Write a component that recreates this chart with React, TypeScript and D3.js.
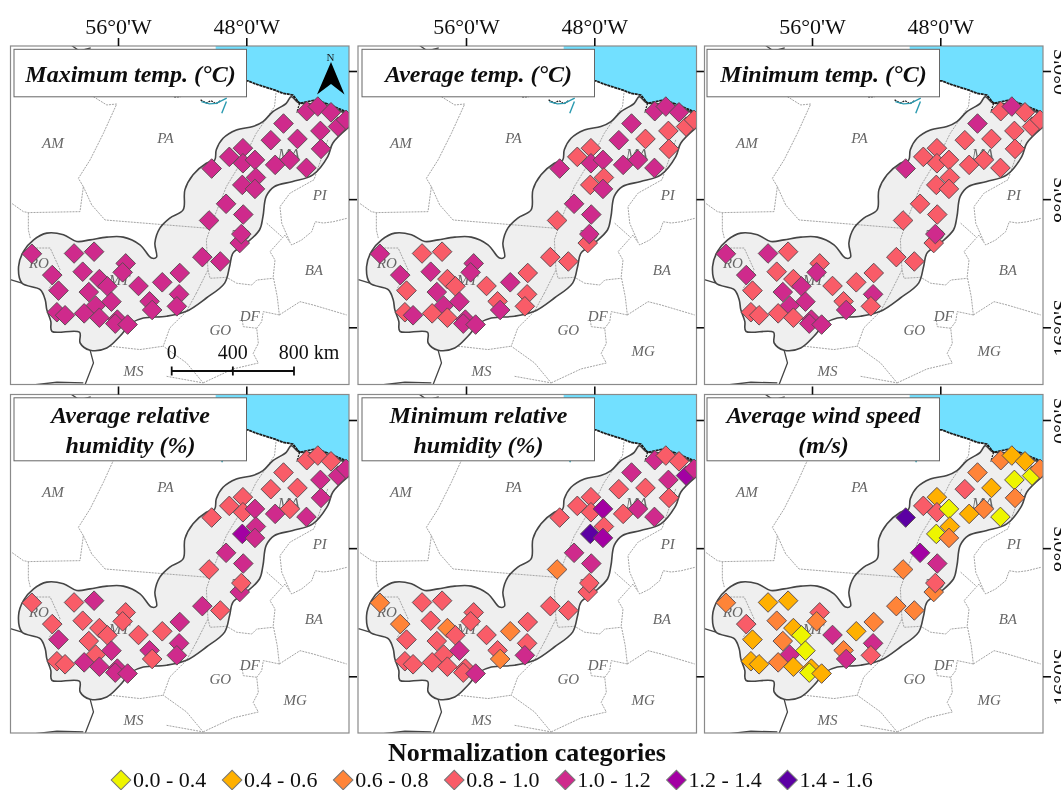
import { useRef, useEffect } from 'react';
import * as d3 from 'd3';

const SERIF = '"Liberation Serif", serif';

// station positions (degrees)
const stationLon = [
	-61.37, -58.74, -57.49, -55.52, -55.71, -58.2, -60.1, -57.16, -56.66, -54.72, -53.24, -52.15, -59.71, -57.82,
	-56.41, -57.39, -54.03, -53.87, -52.19, -52.33, -59.81, -59.3, -58.11, -57.16, -56.04, -56.17, -55.4, -50.74,
	-49.62, -48.41, -48.31, -50.32, -49.26, -48.19, -50.16, -49.06, -48.21, -48.21, -47.46, -47.4, -48.25, -47.46,
	-46.2, -45.28, -44.25, -46.47, -44.81, -45.68, -44.23, -43.54, -42.72, -43.38, -43.34, -42.28, -41.78,
];
const stationLat = [
	-11.41, -11.39, -11.28, -12.01, -12.57, -12.53, -12.74, -12.99, -13.44, -13.42, -13.19, -12.61, -13.71, -13.8,
	-14.4, -14.65, -14.38, -14.92, -13.94, -14.69, -15.06, -15.25, -15.13, -15.4, -15.52, -15.77, -15.83, -11.62,
	-11.89, -10.74, -10.18, -9.33, -8.29, -8.96, -6.09, -5.36, -4.82, -5.76, -5.55, -6.65, -7.11, -7.36,
	-5.86, -5.55, -6.05, -4.32, -4.24, -3.28, -2.51, -2.22, -2.58, -3.74, -4.86, -3.47, -3.05,
];

// normalization category of each station, index into categoryLabels
const maxTempClass = [
	4, 4, 4, 4, 4, 4, 4, 4, 4, 4, 4, 4, 4, 4, 4, 4, 4, 4, 4, 4, 4, 4, 4, 4, 4, 4, 4, 4,
	4, 4, 4, 4, 4, 4, 4, 4, 4, 4, 4, 4, 4, 4, 4, 4, 4, 4, 4, 4, 4, 4, 4, 4, 4, 4, 4,
];
const avgTempClass = [
	4, 3, 3, 4, 4, 4, 4, 3, 3, 3, 4, 3, 3, 4, 4, 4, 3, 4, 3, 3, 3, 4, 3, 3, 4, 4, 4, 3,
	3, 3, 4, 3, 4, 4, 4, 3, 3, 4, 4, 3, 3, 4, 4, 4, 4, 4, 3, 4, 4, 4, 4, 3, 3, 3, 3,
];
const minTempClass = [
	4, 4, 3, 3, 4, 3, 4, 3, 4, 3, 3, 3, 3, 4, 4, 4, 3, 4, 4, 3, 3, 3, 3, 3, 4, 4, 4, 3,
	3, 3, 4, 3, 3, 3, 4, 3, 3, 3, 3, 3, 3, 3, 3, 3, 3, 3, 3, 4, 3, 4, 3, 3, 3, 3, 3,
];
const avgHumidityClass = [
	3, 3, 4, 3, 3, 3, 3, 3, 3, 3, 3, 4, 4, 3, 4, 3, 4, 3, 4, 4, 3, 3, 4, 4, 4, 4, 4, 4,
	3, 4, 3, 3, 4, 4, 3, 3, 3, 3, 4, 4, 5, 4, 4, 3, 4, 3, 3, 3, 3, 3, 3, 4, 4, 4, 4,
];
const minHumidityClass = [
	2, 3, 3, 3, 3, 3, 2, 2, 3, 3, 2, 3, 3, 3, 4, 3, 3, 2, 3, 4, 3, 3, 3, 3, 3, 3, 4, 3,
	3, 3, 3, 2, 4, 4, 3, 3, 3, 3, 5, 3, 6, 5, 3, 4, 4, 3, 3, 4, 4, 3, 3, 4, 3, 5, 4,
];
const windClass = [
	2, 1, 1, 3, 2, 2, 3, 1, 0, 4, 1, 2, 1, 2, 0, 4, 2, 4, 4, 3, 1, 1, 2, 1, 1, 0, 1, 2,
	2, 2, 3, 2, 5, 4, 6, 3, 1, 3, 0, 1, 0, 2, 1, 2, 0, 3, 1, 2, 2, 1, 1, 0, 2, 0, 2,
];

const panelClasses = [maxTempClass, avgTempClass, minTempClass, avgHumidityClass, minHumidityClass, windClass];
const panelTitles = [
	['Maximum temp. (°C)'],
	['Average temp. (°C)'],
	['Minimum temp. (°C)'],
	['Average relative', 'humidity (%)'],
	['Minimum relative', 'humidity (%)'],
	['Average wind speed', '(m/s)'],
];

const categoryLabels = ['0.0 - 0.4', '0.4 - 0.6', '0.6 - 0.8', '0.8 - 1.0', '1.0 - 1.2', '1.2 - 1.4', '1.4 - 1.6'];
const categoryColors = ['#eef500', '#ffb000', '#ff8438', '#f95b68', '#cf2a8c', '#a300a3', '#5b00a3'];

const lonTicks = [-56, -48];
const latTicks = [0, -8, -16];

// study area outline, [lon, lat]
const studyArea = [
	[-45.2, -1.6], [-44.79, -1.95], [-44.06, -2.05], [-43.65, -1.98], [-42.61, -2.3], [-41.68, -2.72], [-41.2, -3.0], [-41.3, -3.3], [-41.68, -3.57],
	[-42.61, -4.51], [-42.92, -5.34], [-43.85, -6.48], [-45.1, -6.9], [-46.24, -7.21], [-46.76, -7.83], [-46.96, -9.08],
	[-47.17, -9.91], [-48.0, -10.74], [-48.83, -11.37], [-49.04, -12.2], [-49.35, -13.24], [-50.49, -14.17], [-51.73, -15.0],
	[-52.97, -15.31], [-54.42, -15.42], [-55.15, -15.73], [-55.88, -16.56], [-56.7, -17.29], [-57.74, -17.43], [-58.36, -16.98],
	[-58.4, -16.31], [-60.12, -16.25], [-60.19, -15.63], [-60.44, -14.9], [-60.54, -14.28], [-60.85, -13.65], [-61.99, -13.24],
	[-62.2, -12.2], [-61.89, -11.26], [-61.26, -10.54], [-60.44, -10.12], [-59.4, -10.22], [-58.57, -10.64], [-57.74, -10.54],
	[-56.7, -10.37], [-55.67, -10.37], [-54.63, -10.85], [-53.91, -11.68], [-53.6, -11.62], [-53.7, -10.74], [-53.39, -9.81],
	[-52.77, -9.18], [-51.94, -8.67], [-51.83, -7.42], [-51.32, -6.48], [-50.49, -5.76], [-49.97, -5.55], [-49.87, -4.92],
	[-49.45, -4.2], [-48.62, -3.68], [-47.59, -3.47], [-46.96, -3.16], [-46.34, -2.54], [-45.51, -2.02],
];

const coastLine = [
	[-41.68, -2.6], [-42.61, -2.18], [-43.65, -1.81], [-44.68, -2.02], [-44.9, -1.75], [-45.1, -1.5], [-45.72, -1.39],
	[-46.2, -1.2], [-46.76, -1.02], [-47.3, -0.85], [-47.9, -0.62], [-48.83, -0.56], [-49.91, -0.77],
];
const oceanCorners = [[-49.91, 1.56], [-41.16, 1.93], [-41.16, -2.74]];

const deltaLines = [
	[[-50.8, -1.91], [-50.3, -2.05], [-49.87, -2.02], [-49.22, -1.7]],
	[[-49.24, -1.9], [-49.53, -2.64]],
];
const deltaShore = [
	[[-50.85, -1.8], [-50.5, -2.0], [-50.2, -1.85], [-49.9, -2.05], [-49.6, -1.85]],
	[[-52.5, -1.62], [-52.1, -1.6]],
	[[-44.68, -2.02], [-44.85, -2.6]],
];

const countryBorders = [
	[[-62.71, -13.03], [-61.99, -13.24]],
	[[-57.74, -17.43], [-57.53, -18.22], [-58.05, -19.57]],
	[[-61.68, -19.64], [-59.81, -19.43], [-58.16, -19.47]],
	[[-58.9, 1.6], [-58.4, 1.25], [-57.7, 1.45]],
];

const stateBorders = [
	[[-57.54, -1.6], [-56.7, -2.12], [-56.08, -2.06], [-56.91, -3.89], [-57.74, -5.55], [-58.47, -6.7], [-58.16, -7.22], [-58.37, -8.78], [-61.59, -8.84], [-61.9, -8.78], [-62.63, -8.26]],
	[[-61.59, -8.84], [-61.59, -9.92], [-61.47, -10.43]],
	[[-61.47, -11.05], [-60.23, -11.05], [-59.61, -12.41], [-60.33, -13.65]],
	[[-58.16, -7.22], [-57.64, -8.36], [-56.81, -9.3], [-50.37, -9.82]],
	[[-46.13, -1.18], [-46.24, -2.22], [-47.38, -3.89], [-48.1, -5.34], [-49.24, -7.21], [-50.07, -9.29], [-50.49, -10.54], [-50.39, -12.42], [-51.11, -13.86]],
	[[-51.11, -13.86], [-51.73, -15.0], [-52.77, -16.04], [-53.18, -17.18], [-51.73, -18.22], [-50.69, -19.47]],
	[[-50.39, -12.42], [-50.26, -12.94], [-49.22, -12.88], [-48.6, -13.25], [-47.66, -13.36], [-47.35, -13.05], [-46.32, -12.94]],
	[[-41.74, -9.2], [-42.58, -9.41], [-43.2, -9.49], [-43.7, -9.41], [-43.92, -10.03], [-44.55, -10.55], [-45.17, -10.86], [-45.59, -10.24], [-46.52, -11.28], [-46.21, -11.8], [-46.32, -12.84], [-46.07, -14.09], [-45.94, -15.23]],
	[[-45.94, -15.23], [-44.65, -14.4], [-43.82, -14.61], [-42.78, -14.92], [-41.74, -15.23]],
	[[-42.92, -4.3], [-43.78, -6.79], [-45.28, -7.63], [-45.9, -8.47], [-45.79, -9.51], [-45.28, -10.66]],
	[[-46.73, -9.5], [-45.79, -10.34]],
	[[-45.94, -15.23], [-46.94, -15.02], [-47.04, -15.65], [-47.35, -16.06], [-47.25, -17.0], [-47.57, -17.63], [-47.25, -18.23], [-48.83, -18.6], [-50.69, -19.47]],
	[[-47.35, -16.06], [-48.19, -15.96], [-48.27, -15.4]],
	[[-56.5, -17.18], [-54.63, -17.39], [-53.18, -17.18]],
	[[-52.97, -19.06], [-50.69, -19.47]],
];

const stateLabels = ['AM', 'PA', 'MA', 'PI', 'TO', 'BA', 'RO', 'MT', 'GO', 'DF', 'MG', 'MS'];
const stateLon = [-60.06, -53.04, -45.35, -43.42, -48.33, -43.79, -60.93, -55.92, -49.62, -47.79, -44.95, -55.03];
const stateLat = [-4.47, -4.16, -5.19, -7.73, -10.22, -12.43, -11.99, -13.03, -16.15, -15.27, -17.5, -18.74];

const scaleBarKm = [0, 400, 800];
const scaleBarText = ['0', '400', '800 km'];

const panelLefts = [10.5, 358, 704.5];
const panelTops = [46, 394.5];
const panelSize = 338.5;
const lon56 = [118, 466, 812];
const lat0 = [71, 420];
const boxLefts = [14, 362, 707];

const formatLon = (d) => `${Math.abs(d)}°0'W`;
const formatLat = (d) => `${Math.abs(d)}°0'S`;

const App = () => {
	const svgRef = useRef();

	useEffect(() => {
		const root = d3.select(svgRef.current);
		root.selectAll('*').remove();

		// the reference is a soft, slightly blurred scan
		root.append('filter')
			.attr('id', 'soft')
			.attr('x', 0)
			.attr('y', 0)
			.attr('width', 1)
			.attr('height', 1)
			.attr('filterUnits', 'objectBoundingBox')
			.append('feGaussianBlur')
			.attr('stdDeviation', 0.4);
		const svg = root.append('g').attr('filter', 'url(#soft)');
		svg.append('rect').attr('width', 1061).attr('height', 790).attr('fill', '#fff');

		const diamond = d3.symbol().type(d3.symbolSquare).size(192)();

		panelTitles.forEach((title, i) => {
			const col = i % 3;
			const row = Math.floor(i / 3);
			const left = panelLefts[col];
			const top = panelTops[row];

			const x = d3.scaleLinear().domain([-56, -48]).range([lon56[col], lon56[col] + 128.3]);
			const y = d3.scaleLinear().domain([0, -16]).range([lat0[row], lat0[row] + 256.3]);
			const line = d3.line().x((d) => x(d[0])).y((d) => y(d[1]));
			const smooth = d3.line().x((d) => x(d[0])).y((d) => y(d[1])).curve(d3.curveCatmullRomClosed);

			const clipId = `clip-${i}`;
			svg.append('clipPath').attr('id', clipId).append('rect').attr('x', left).attr('y', top).attr('width', panelSize).attr('height', panelSize);

			const panel = svg.append('g');
			const map = panel.append('g').attr('clip-path', `url(#${clipId})`);

			// ocean, then the study area on top of it
			map.append('path').attr('d', `${line([...oceanCorners, ...coastLine])}Z`).attr('fill', '#72e0ff');
			map.append('path').attr('d', smooth(studyArea)).attr('fill', '#efefef');

			map.selectAll('.state')
				.data(stateBorders)
				.enter()
				.append('path')
				.attr('d', line)
				.attr('fill', 'none')
				.attr('stroke', '#a4a4a4')
				.attr('stroke-width', 1)
				.attr('stroke-dasharray', '2 1');

			map.append('path').attr('d', smooth(studyArea)).attr('fill', 'none').attr('stroke', '#444').attr('stroke-width', 1.6);

			map.selectAll('.country')
				.data(countryBorders)
				.enter()
				.append('path')
				.attr('d', line)
				.attr('fill', 'none')
				.attr('stroke', '#444')
				.attr('stroke-width', 1.3);

			map.append('path').attr('d', line(coastLine)).attr('fill', 'none').attr('stroke', '#1a1a1a').attr('stroke-width', 1.8).attr('stroke-dasharray', '3 0.6');

			map.selectAll('.shore')
				.data(deltaShore)
				.enter()
				.append('path')
				.attr('d', line)
				.attr('fill', 'none')
				.attr('stroke', '#222')
				.attr('stroke-width', 1.3)
				.attr('stroke-dasharray', '2 1');

			map.selectAll('.delta')
				.data(deltaLines)
				.enter()
				.append('path')
				.attr('d', line)
				.attr('fill', 'none')
				.attr('stroke', '#2a9ab0')
				.attr('stroke-width', 1.4);

			// state names, no MG under the scale bar of the first panel
			stateLabels.forEach((label, k) => {
				if (i === 0 && label === 'MG') return;
				map.append('text')
					.attr('x', x(stateLon[k]))
					.attr('y', y(stateLat[k]))
					.attr('text-anchor', 'middle')
					.attr('dominant-baseline', 'central')
					.attr('font-family', SERIF)
					.attr('font-style', 'italic')
					.attr('font-size', 15)
					.attr('fill', '#666')
					.text(label);
			});

			map.selectAll('.station')
				.data(panelClasses[i])
				.enter()
				.append('path')
				.attr('d', diamond)
				.attr('transform', (d, k) => `translate(${x(stationLon[k])},${y(stationLat[k])}) rotate(45)`)
				.attr('fill', (d) => categoryColors[d])
				.attr('stroke', '#5a4a50')
				.attr('stroke-width', 0.9);

			panel.append('rect').attr('x', left).attr('y', top).attr('width', panelSize).attr('height', panelSize)
				.attr('fill', 'none').attr('stroke', '#8a8a8a').attr('stroke-width', 1.2);

			// ticks on top and right of every panel
			const topAxis = panel.append('g')
				.attr('transform', `translate(0,${top})`)
				.call(d3.axisTop(x).tickValues(lonTicks).tickSize(8).tickFormat(formatLon));
			const rightAxis = panel.append('g')
				.attr('transform', `translate(${left + panelSize},0)`)
				.call(d3.axisRight(y).tickValues(latTicks).tickSize(8).tickFormat(formatLat));
			[topAxis, rightAxis].forEach((axis) => {
				axis.select('.domain').remove();
				axis.selectAll('.tick line').attr('stroke', '#111').attr('stroke-width', 1.6);
			});
			topAxis.selectAll('text')
				.attr('font-family', SERIF)
				.attr('font-size', 22)
				.attr('fill', '#111')
				.attr('y', -12)
				.attr('display', row === 0 ? null : 'none');
			rightAxis.selectAll('text')
				.attr('font-family', SERIF)
				.attr('font-size', 22)
				.attr('fill', '#111')
				.attr('text-anchor', 'middle')
				.attr('dy', 0)
				.attr('x', 0)
				.attr('y', 0)
				.attr('transform', 'translate(25,0) rotate(-90)')
				.attr('display', col === 2 ? null : 'none');

			// title box
			const boxHeight = title.length === 1 ? 47.5 : 63;
			panel.append('rect')
				.attr('x', boxLefts[col])
				.attr('y', top + 3.3)
				.attr('width', 232.5)
				.attr('height', boxHeight)
				.attr('fill', '#fff')
				.attr('stroke', '#666')
				.attr('stroke-width', 1);
			title.forEach((text, k) => {
				panel.append('text')
					.attr('x', boxLefts[col] + 116.5)
					.attr('y', top + (title.length === 1 ? 35.7 : 28.5 + k * 29.7))
					.attr('text-anchor', 'middle')
					.attr('font-family', SERIF)
					.attr('font-style', 'italic')
					.attr('font-weight', 700)
					.attr('font-size', 24)
					.attr('fill', '#111')
					.text(text);
			});

			if (i === 0) {
				// scale bar
				const km = d3.scaleLinear().domain([0, 800]).range([171.7, 294]);
				const bar = panel.append('g');
				bar.append('line').attr('x1', km(0)).attr('x2', km(800)).attr('y1', 371).attr('y2', 371).attr('stroke', '#111').attr('stroke-width', 2);
				scaleBarKm.forEach((v) => {
					bar.append('line').attr('x1', km(v)).attr('x2', km(v)).attr('y1', 366.5).attr('y2', 375.5).attr('stroke', '#111').attr('stroke-width', 1.8);
				});
				scaleBarText.forEach((t, k) => {
					bar.append('text')
						.attr('x', k === 2 ? 309 : km(scaleBarKm[k]))
						.attr('y', 358.5)
						.attr('text-anchor', 'middle')
						.attr('font-family', SERIF)
						.attr('font-size', 20)
						.attr('fill', '#111')
						.text(t);
				});

				// north arrow
				panel.append('text').attr('x', 330.5).attr('y', 61).attr('text-anchor', 'middle').attr('font-family', SERIF).attr('font-size', 11).attr('fill', '#222').text('N');
				panel.append('path')
					.attr('d', d3.line()([[331, 62], [344.5, 94.5], [331, 84], [317, 94.5]]) + 'Z')
					.attr('fill', '#000');
			}
		});

		// legend
		svg.append('text')
			.attr('x', 527)
			.attr('y', 761)
			.attr('text-anchor', 'middle')
			.attr('font-family', SERIF)
			.attr('font-weight', 700)
			.attr('font-size', 26)
			.attr('fill', '#111')
			.text('Normalization categories');

		const legendX = d3.scalePoint().domain(categoryLabels).range([121, 787.5]);
		const legend = svg.selectAll('.legend')
			.data(categoryLabels)
			.enter()
			.append('g')
			.attr('transform', (d) => `translate(${legendX(d)},780)`);
		legend.append('path')
			.attr('d', diamond)
			.attr('transform', 'rotate(45)')
			.attr('fill', (d, i) => categoryColors[i])
			.attr('stroke', '#777')
			.attr('stroke-width', 1);
		legend.append('text')
			.attr('x', 12)
			.attr('y', 7)
			.attr('font-family', SERIF)
			.attr('font-size', 22)
			.attr('fill', '#111')
			.text((d) => d);
	}, []);

	return (
		<svg
			ref={svgRef}
			width={1061}
			height={790}
			style={{ position: 'absolute', left: 0, top: 0, display: 'block', background: '#fff' }}
		/>
	);
};

export default App;
